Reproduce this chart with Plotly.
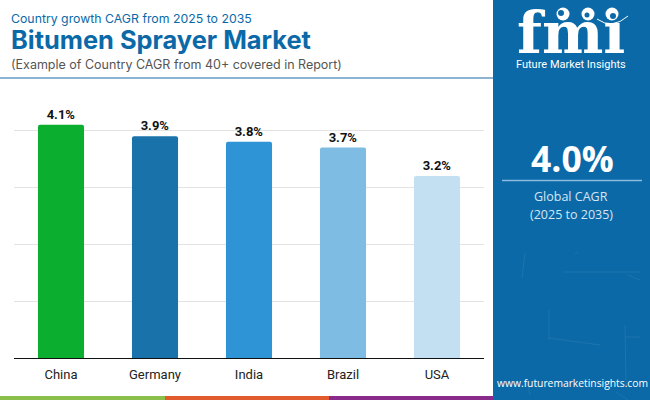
import plotly.graph_objects as go

categories = ["China", "Germany", "India", "Brazil", "USA"]
cagr_values = [4.1, 3.9, 3.8, 3.7, 3.2]
value_labels = ["4.1%", "3.9%", "3.8%", "3.7%", "3.2%"]
bar_colors = ["#0BAE2E", "#1A72AB", "#2F94D6", "#7FBCE4", "#C3E0F2"]
grid_values = [0, 1, 2, 3, 4]

W, H = 650, 400
PANEL = "#0B69A8"
TITLE = "#0B69A8"


def px(x):
    return x / W


def py(y):
    return 1 - y / H


def rect(x0, y0, x1, y1, color, layer="below"):
    return dict(type="rect", xref="paper", yref="paper", x0=px(x0), x1=px(x1),
                y0=py(y1), y1=py(y0), fillcolor=color, line_width=0, layer=layer)


def seg(x0, y0, x1, y1, color, width=1):
    return dict(type="line", xref="paper", yref="paper", x0=px(x0), x1=px(x1),
                y0=py(y0), y1=py(y1), line=dict(color=color, width=width), layer="above")


def circ(cx, cy, r, color):
    return dict(type="circle", xref="paper", yref="paper", x0=px(cx - r), x1=px(cx + r),
                y0=py(cy + r), y1=py(cy - r), fillcolor=color, line_width=0, layer="above")


def text(x, y, s, size, color, family, anchor="left"):
    return dict(xref="paper", yref="paper", x=px(x), y=py(y), text=s, showarrow=False,
                xanchor=anchor, yanchor="middle", align=anchor, borderpad=0,
                font=dict(size=size, color=color, family=family))


fig = go.Figure(go.Bar(
    x=categories, y=cagr_values, width=0.49, marker=dict(color=bar_colors, line_width=0, cornerradius=2),
    text=value_labels, textposition="outside", cliponaxis=False,
    textfont=dict(family="Roboto", size=13, color="#111111", weight="bold"),
))

shapes = [
    rect(0, 77, 493, 79, "#8DB3D2"),
    rect(0, 396, 165, 400, "#8BBF4B"),
    rect(165, 396, 329, 400, "#E15B2D"),
    rect(329, 396, 493, 400, "#8A2A8B"),
    rect(493, 0, 650, 400, PANEL),
    seg(502, 180.5, 642, 180.5, "#8DBBDD", 1.5),
]

# faint scratches in the lower part of the panel
for x0, y0, x1, y1 in [(525, 253, 522, 278), (625, 325, 626, 385), (549, 338, 600, 345),
                       (628, 275, 640, 280), (625, 337, 640, 337), (549, 310, 549, 340),
                       (528, 385, 530, 395), (616, 392, 628, 400), (575, 254, 578, 252),
                       (563, 272, 640, 272)]:
    shapes.append(seg(x0, y0, x1, y1, "#1F74AB", 1))

annotations = [
    text(10, 18, "Country growth CAGR from 2025 to 2035", 12.3, TITLE, "Inter"),
    text(10, 40, "<b>Bitumen Sprayer Market</b>", 25.4, TITLE, "Inter"),
    text(10, 64, "(Example of Country CAGR from 40+ covered in Report)", 12.5, "#555555", "Inter"),
    text(572, 158, "<b>4.0%</b>", 35.5, "white", "Open Sans", "center"),
    text(571, 197, "Global CAGR", 12.5, "#D5E6F3", "Open Sans", "center"),
    text(571, 214, "(2025 to 2035)", 12.5, "#D5E6F3", "Open Sans", "center"),
    text(572, 383, "www.futuremarketinsights.com", 10.3, "white", "Open Sans", "center"),
    text(571, 64, "Future Market Insights", 11, "white", "Roboto", "center"),
    text(571, 33, "<b>fmı</b>", 58, "white", "DejaVu Serif", "center"),
]

# stripes across the logo lettering
for y in [24, 29, 34, 39, 44, 49, 54]:
    shapes.append(rect(510, y, 632, y + 1, PANEL, "above"))

# three round icons over the logo, with the arc under the last one
shapes += [circ(563, 14, 6.5, "white"), circ(588, 14, 6.5, "white"), circ(612, 14, 6.5, "white")]
shapes.append(dict(type="path", xref="paper", yref="paper", layer="above",
                   path=f"M {px(597)} {py(19)} Q {px(612)} {py(30)} {px(628)} {py(16)}",
                   line=dict(color="white", width=1)))
shapes += [circ(561, 13, 3, PANEL), circ(587, 15, 2.5, PANEL), circ(613, 16, 3, PANEL)]

fig.update_layout(
    width=W, height=H, autosize=False, showlegend=False, bargap=0.51,
    margin=dict(l=0, r=0, t=0, b=0, pad=0),
    paper_bgcolor="white", plot_bgcolor="white",
    shapes=shapes, annotations=annotations,
    font=dict(family="Roboto"),
    xaxis=dict(domain=[14 / W, 484 / W], showgrid=False, showline=True, linecolor="#111111", linewidth=1,
               ticks="", ticklabelstandoff=4, tickfont=dict(family="Roboto", size=13, color="#222222"),
               fixedrange=True),
    yaxis=dict(domain=[1 - 358 / H, 1 - 102 / H], range=[0, 4.5], tickvals=grid_values,
               showticklabels=False, showline=False,
               showgrid=True, gridcolor="#E3E3E3", gridwidth=1, zeroline=False, ticks="",
               fixedrange=True),
)
fig.write_html("out.html", config={"displayModeBar": False},
               post_script="document.body.style.margin='0';document.body.style.overflow='hidden';")
